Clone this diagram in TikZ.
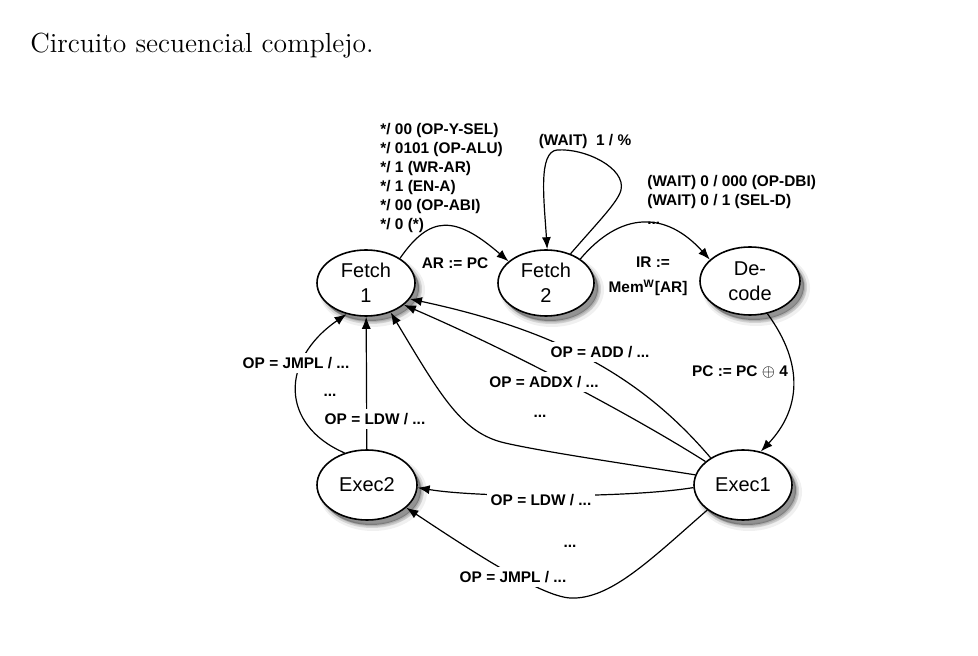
\documentclass[tikz,border=0pt]{standalone}
\usepackage{fontspec}
\usetikzlibrary{arrows.meta,shapes.geometric}
\newfontfamily\labfont{Liberation Sans}
\newfontfamily\nodefont{Liberation Sans}
\begin{document}
\begin{tikzpicture}[x=0.5pt,y=-0.5pt,
  state/.style={ellipse, draw=black, line width=0.8pt, fill=white, inner sep=0pt,
    font=\nodefont\fontsize{10}{12.5}\selectfont, align=center,
    preaction={fill=black, draw=black, line width=4pt, opacity=0.06, transform canvas={xshift=3pt,yshift=-3.5pt}},
    preaction={fill=black, draw=black, line width=2pt, opacity=0.12, transform canvas={xshift=2.5pt,yshift=-3pt}},
    preaction={fill=black, opacity=0.3, transform canvas={xshift=2pt,yshift=-2.5pt}}},
  edge/.style={draw=black, line width=0.6pt, -{Latex[length=6pt,width=4.5pt]}},
  lbl/.style={font=\labfont\bfseries\fontsize{7.7}{9.5}\selectfont, inner sep=1pt},
  lblw/.style={lbl, fill=white, inner sep=2pt}]
\useasboundingbox (0,0) rectangle (978,656);

\node[anchor=base west, inner sep=0pt, font=\fontsize{13.8}{16}\selectfont] (title) at (30,53) {Circuito secuencial complejo.};

\node[state, minimum width=49pt, minimum height=33pt] (f1) at (366,283) {Fetch\\1};
\node[state, minimum width=48pt, minimum height=33pt] (f2) at (546,283) {Fetch\\2};
\node[state, minimum width=50pt, minimum height=34pt] (dec) at (750,281) {De-\\code};
\node[state, minimum width=50pt, minimum height=35pt] (ex2) at (367,485) {Exec2};
\node[state, minimum width=49pt, minimum height=35pt] (ex1) at (743,485) {Exec1};

\draw[edge] (f1.36) .. controls (430,215) and (455,215) .. (f2.150);
\draw[edge] (f2.50) .. controls (598,222) and (618,202) .. (621,190) .. controls (626,168) and (585,148) .. (557,150) .. controls (538,152) and (544,200) .. (f2.88);
\draw[edge] (f2.35) .. controls (620,212) and (665,210) .. (dec.152);
\draw[edge] (dec.-62) .. controls (805,365) and (800,410) .. (ex1.62);
\draw[edge] (ex1.140) .. controls (640,375) and (555,330) .. (f1.-20);
\draw[edge] (ex1.148) .. controls (640,420) and (520,355) .. (f1.-30);
\draw[edge] (ex1.168) .. controls (620,463) and (545,452) .. (505,443) .. controls (462,433) and (442,398) .. (f1.-50);
\draw[edge] (ex2.125) .. controls (280,425) and (280,360) .. (f1.-122);
\draw[edge] (ex2) -- (f1);
\draw[edge] (ex1.183) .. controls (630,498) and (480,498) .. (ex2.-3);
\draw[edge] (ex1.-145) .. controls (650,560) and (610,600) .. (570,598) .. controls (540,596) and (470,550) .. (ex2.-30);

\node[lbl, anchor=west, align=left] (l1) at (378,178) {*/ 00 (OP-Y-SEL)\\*/ 0101 (OP-ALU)\\*/ 1 (WR-AR)\\*/ 1 (EN-A)\\*/ 00 (OP-ABI)\\*/ 0 (*)};
\node[lbl] (l2) at (585,142) {(WAIT)\ \ 1 / \%};
\node[lbl, anchor=west, align=left] (l3) at (645,200) {(WAIT) 0 / 000 (OP-DBI)\\(WAIT) 0 / 1 (SEL-D)\\...};
\node[lbl] (l4) at (455,263) {AR := PC};
\node[lbl] (l5) at (653,262) {IR :=};
\node[lbl] (l6) at (648,288) {Mem\textsuperscript{W}[AR]};
\node[lbl] (l7) at (740,372) {PC := PC $\oplus$ 4};
\node[lblw] (l8) at (600,352) {OP = ADD / ...};
\node[lblw] (l9) at (544,382) {OP = ADDX / ...};
\node[lbl] (l10) at (540,416) {...};
\node[lblw] (l11) at (296,363) {OP = JMPL / ...};
\node[lbl] (l12) at (330,395) {...};
\node[lblw] (l13) at (375,419) {OP = LDW / ...};
\node[lblw] (l14) at (541,500) {OP = LDW / ...};
\node[lbl] (l15) at (570,546) {...};
\node[lblw] (l16) at (513,577) {OP = JMPL / ...};
\end{tikzpicture}
\end{document}
